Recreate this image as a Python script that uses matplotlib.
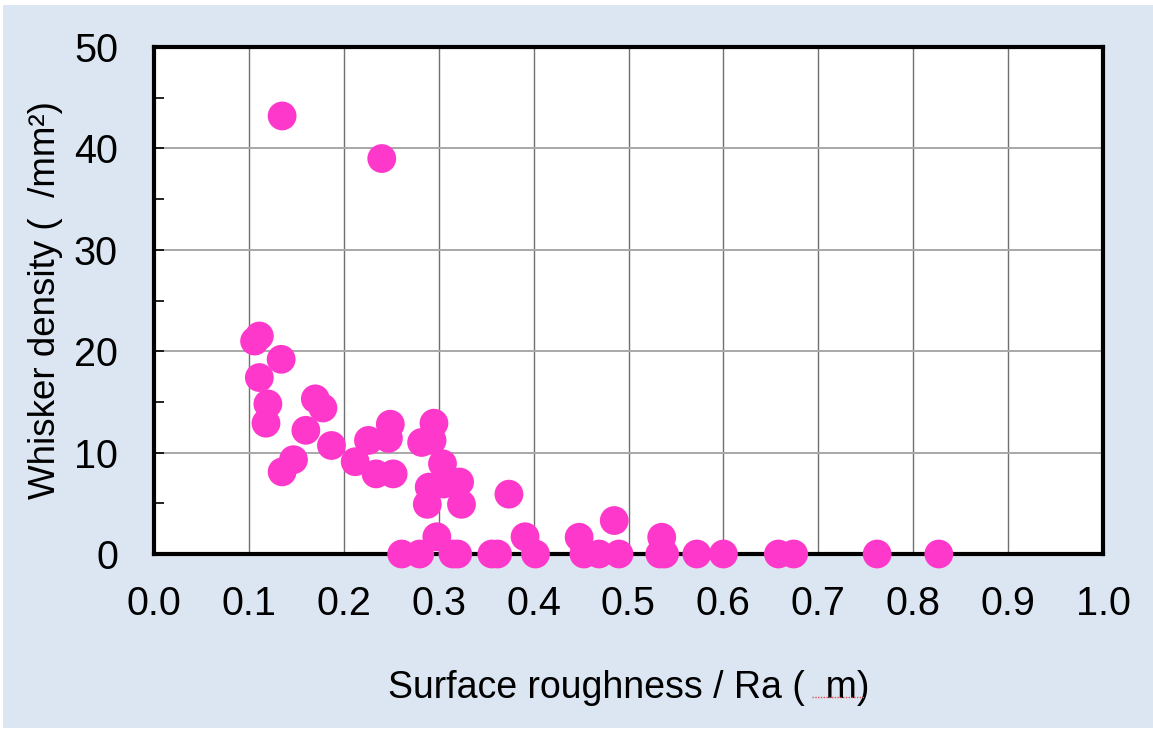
import matplotlib
matplotlib.use("Agg")
import matplotlib.pyplot as plt
from matplotlib.patches import Rectangle
from matplotlib.lines import Line2D

plt.rcParams['font.family'] = ['Liberation Sans', 'DejaVu Sans']

# Data: surface roughness Ra (um) vs whisker density (/mm^2)
ra = [0.135, 0.240,
      0.106, 0.111, 0.134, 0.111, 0.120, 0.118,
      0.170, 0.178, 0.160, 0.187, 0.147, 0.135,
      0.212, 0.226, 0.249, 0.247, 0.234, 0.252,
      0.295, 0.282, 0.293, 0.304, 0.290, 0.322, 0.305, 0.288, 0.324,
      0.298, 0.374, 0.391, 0.448, 0.485, 0.535,
      0.261, 0.280, 0.315, 0.320, 0.356, 0.362, 0.402, 0.453, 0.469,
      0.490, 0.533, 0.538, 0.572, 0.600, 0.658, 0.674, 0.762, 0.827]
density = [43.2, 39.0,
           21.0, 21.5, 19.2, 17.4, 14.8, 12.9,
           15.3, 14.4, 12.2, 10.7, 9.3, 8.1,
           9.1, 11.2, 12.8, 11.4, 7.9, 7.9,
           12.9, 11.0, 11.2, 8.9, 6.6, 7.1, 6.9, 4.9, 4.9,
           1.7, 5.9, 1.7, 1.65, 3.3, 1.65,
           0, 0, 0, 0, 0, 0, 0, 0, 0,
           0, 0, 0, 0, 0, 0, 0, 0, 0]

x_ticks = [0.0, 0.1, 0.2, 0.3, 0.4, 0.5, 0.6, 0.7, 0.8, 0.9, 1.0]
y_ticks = [0, 10, 20, 30, 40, 50]
y_minor = [5, 15, 25, 35, 45]

W, H = 1153, 730
fig = plt.figure(figsize=(W/100, H/100), dpi=100, facecolor='white')
fig.patches.append(Rectangle((3/W, 2/H), 1150/W, 723/H,
                             transform=fig.transFigure, facecolor='#dce6f2',
                             edgecolor='none', zorder=-10))

ax = fig.add_axes([154/W, (H-554)/H, (1103-154)/W, (554-47)/H])
ax.set_zorder(1)
ax.set_facecolor('white')
ax.set_xlim(0, 1.0)
ax.set_ylim(0, 50)

ax.set_xticks(x_ticks)
ax.set_xticklabels([f"{v:.1f}" for v in x_ticks])
ax.set_yticks(y_ticks)
ax.set_yticks(y_minor, minor=True)

for v in x_ticks[1:-1]:
    ax.axvline(v, color='#707070', lw=1.0, zorder=1)
for v in y_ticks[1:-1]:
    ax.axhline(v, color='#a8a8a8', lw=1.4, zorder=1)

ax.tick_params(axis='both', which='both', direction='in', labelsize=28.5,
               color='black', width=1.2)
ax.tick_params(axis='y', which='both', length=7, pad=26)
ax.tick_params(axis='x', which='both', length=0, pad=22)

for sp in ax.spines.values():
    sp.set_linewidth(3)
    sp.set_color('black')
    sp.set_zorder(3)

ax.scatter(ra, density, s=430, color='#ff38cc', edgecolors='none',
           zorder=5, clip_on=False)

ax.set_xlabel('Surface roughness / Ra (  m)', fontsize=27, labelpad=34)
ax.set_ylabel('Whisker density (  /mm\u00b2)', fontsize=26.5, labelpad=8)

# spell-check squiggle under the unit in the x label (as in the picture)
fig.lines.append(Line2D([812/W, 864/W], [(H-697)/H, (H-697)/H],
                        transform=fig.transFigure, color='#e05050',
                        lw=1.0, ls=(0, (1, 1)), zorder=5))

fig.savefig('out.png', dpi=100, facecolor=fig.get_facecolor())
